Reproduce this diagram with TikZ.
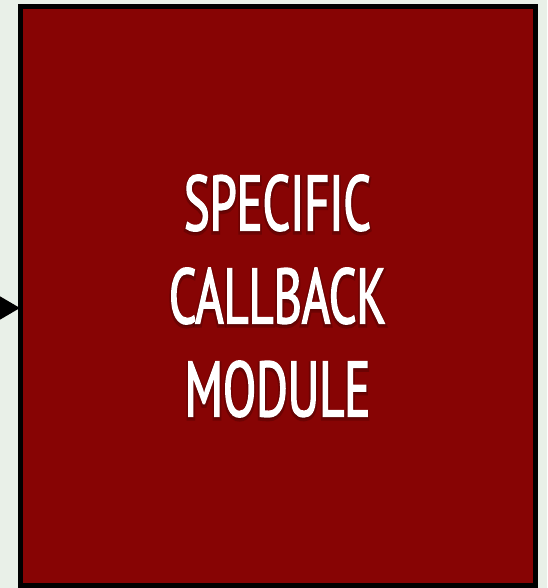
\documentclass[tikz,border=0pt]{standalone}
\usepackage{fontspec}
\newfontfamily\narrowfont[FakeStretch=0.62,FakeBold=1.8]{PT Sans}
\newfontfamily\glowfont[FakeStretch=0.62,FakeBold=6]{PT Sans}
\usetikzlibrary{arrows.meta,positioning}
\definecolor{FigureRed}{HTML}{870404}
\definecolor{FigureBack}{HTML}{E9F0E8}
\begin{document}
\begin{tikzpicture}[x=1pt,y=1pt,
  modbox/.style={draw=black,fill=FigureRed,line width=5pt,minimum width=515pt,minimum height=579pt,inner sep=0pt},
  modtext/.style={align=center,text=white,font=\narrowfont\fontsize{78}{93}\selectfont}]
  \fill[FigureBack] (0,0) rectangle (547,588);
  \useasboundingbox (0,0) rectangle (547,588);
  \node[modbox] (module) at (277.5,292) {};
  \coordinate (feed) at (-40,280);
  \draw[line width=4pt,-{Triangle[length=30pt,width=34pt]}] (feed) -- ([xshift=2.5pt]feed -| module.west);
  \node[modtext,text=black,opacity=0.2,font=\glowfont\fontsize{78}{93}\selectfont] (glow) at ([yshift=-2pt]module.center) {SPECIFIC\\CALLBACK\\MODULE};
  \node[modtext] (title) at (module.center) {SPECIFIC\\CALLBACK\\MODULE};
\end{tikzpicture}
\end{document}
